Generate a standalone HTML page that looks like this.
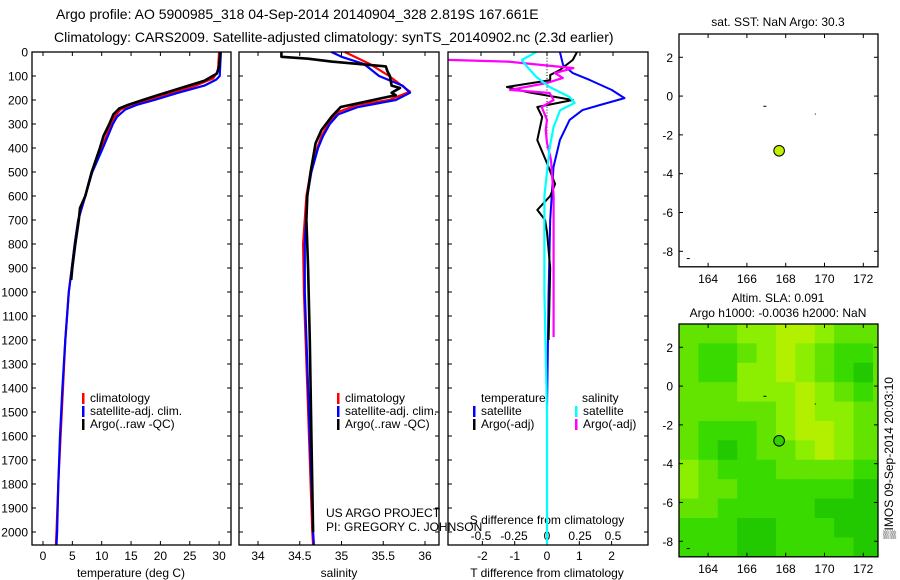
<!DOCTYPE html>
<html><head><meta charset="utf-8">
<style>
html,body{margin:0;padding:0;background:#fff;}
svg{display:block;font-family:"Liberation Sans",sans-serif;}
text{fill:#000;}
</style></head>
<body>
<svg id="chart" width="900" height="580" viewBox="0 0 900 580" xmlns="http://www.w3.org/2000/svg">
<text x="56" y="19" font-size="14" text-anchor="start">Argo profile: AO 5900985_318 04-Sep-2014 20140904_328 2.819S 167.661E</text>
<text x="54" y="42" font-size="14" text-anchor="start">Climatology: CARS2009. Satellite-adjusted climatology: synTS_20140902.nc (2.3d earlier)</text>
<g id="g"></g>
</svg>
<script>
// ---------- data ----------
const depthTicks=[0,100,200,300,400,500,600,700,800,900,1000,1100,1200,1300,1400,1500,1600,1700,1800,1900,2000];
const tempTicks=[0,5,10,15,20,25,30];
const salTicks=[34,34.5,35,35.5,36];
const tdiffTicks=[-2,-1,0,1,2];
const sdiffTicks=[-0.5,-0.25,0,0.25,0.5];
const lonTicks=[164,166,168,170,172];
const latTicks=[2,0,-2,-4,-6,-8];

const tempArgoDepth=[0,60,90,120,150,180,200,220,235,260,300,350,400,450,500,600,650,700,800,900,950];
const tempArgoVal=[30.2,30.0,29.6,27.5,23.5,19.5,17,14.5,13,12,11.3,10.3,9.7,9.0,8.3,7.2,6.3,6.1,5.5,5.0,4.8];
const tempClimDepth=[0,80,110,140,170,200,220,240,270,300,400,500,600,700,800,900,1000,1200,1400,1600,1800,2000,2054];
const tempClimVal=[30.0,29.8,29.0,26.0,22.0,18.0,15.0,13.2,12.2,11.6,10.0,8.3,7.2,6.0,5.4,4.9,4.4,3.8,3.4,3.0,2.6,2.3,2.2];
const tempSatDepth=[0,100,115,140,170,200,220,240,270,300,400,500,600,700,800,900,1000,1200,1400,1600,1800,2000,2054];
const tempSatVal=[30.3,30.1,29.5,27.5,23.0,19.0,16.0,14.0,12.6,11.9,10.2,8.4,7.2,6.0,5.4,4.9,4.4,3.8,3.3,2.9,2.6,2.4,2.3];

const salArgoDepth=[0,20,28,40,60,80,100,140,150,170,180,200,229,270,325,380,500,600,700,900,1200,1600,2000];
const salArgoVal=[34.28,34.28,34.6,34.88,35.53,35.55,35.58,35.6,35.7,35.6,35.65,35.38,34.99,34.88,34.76,34.69,34.63,34.59,34.58,34.6,34.62,34.64,34.66];
const salClimDepth=[0,30,50,100,150,165,200,220,250,300,350,400,500,600,800,1000,1400,2000,2054];
const salClimVal=[35.04,35.22,35.34,35.57,35.76,35.82,35.57,35.19,34.96,34.84,34.76,34.71,34.63,34.58,34.54,34.55,34.59,34.65,34.66];
const salSatDepth=[0,20,50,100,140,170,200,230,260,300,350,400,500,600,800,1000,1400,2000,2054];
const salSatVal=[34.88,35.0,35.27,35.45,35.73,35.82,35.65,35.19,34.96,34.86,34.78,34.72,34.64,34.59,34.56,34.56,34.6,34.66,34.67];

const tdSatDepth=[0,54,88,117,158,192,221,242,283,367,479,700,1000,1500,2054];
const tdSatVal=[0.4,0.5,0.8,1.33,2.0,2.4,1.64,1.1,0.7,0.4,0.2,0.1,0.05,0.0,0.0];
const tdArgoDepth=[0,33,75,96,117,146,167,200,229,271,367,463,550,600,658,700,750,900,1200];
const tdArgoVal=[0.93,0.8,0.4,0.1,0.1,-1.24,-0.6,0.8,-0.3,-0.15,-0.3,0.0,0.25,0.1,-0.3,-0.06,0.0,0.1,0.05];
const sdSatDepth=[0,33,62,104,146,187,212,242,312,400,600,1000,1500,2054];
const sdSatVal=[-0.08,-0.19,-0.15,-0.08,0.02,0.17,0.21,0.1,0.05,0.02,-0.02,-0.02,0.0,0.0];
const sdArgoDepth=[33,40,67,88,108,129,158,171,200,229,283,325,379,450,600,900,1188];
const sdArgoVal=[-0.75,-0.3,0.2,0.06,0.12,0.0,-0.28,0.02,0.05,-0.04,0.0,-0.01,0.0,0.03,0.05,0.05,0.05];

const profLon=[167.661];
const profLat=[-2.819];
const slaGrid=[
[2,2,2,3,3,4,4,3,2,2,2],
[2,1,1,2,3,4,3,2,1,1,2],
[2,1,1,3,3,4,3,2,1,0,2],
[2,2,2,3,3,3,4,3,2,1,2],
[2,2,2,2,2,3,4,3,3,2,2],
[2,1,1,1,2,3,4,4,3,2,2],
[2,1,0,1,2,2,3,4,3,2,2],
[3,2,1,1,1,2,2,2,2,1,1],
[3,2,2,1,1,1,1,1,1,0,0],
[2,2,1,1,1,1,1,0,0,0,0],
[1,1,1,0,0,1,1,1,0,0,0],
[1,1,1,0,0,1,1,1,1,0,0]];
const slaColors=['#22c800','#38da00','#62e400','#8cee00','#b2f000'];

// ---------- helpers ----------
const NS='http://www.w3.org/2000/svg';
const G=document.getElementById('g');
function mk(tag,attrs,parent){const e=document.createElementNS(NS,tag);for(const k in attrs)e.setAttribute(k,attrs[k]);(parent||G).appendChild(e);return e;}
const top0=52,bot0=545;
const yD=d=>top0+d*0.24;
const xT=t=>43+t*5.87;
const xS=s=>258+(s-34)*83.5;
const xTd=v=>547+v*32.3;
const xSd=v=>547+v*132;

function line(xs,ds,xf,color,w,name,dash){
  const pts=xs.map((v,i)=>xf(v).toFixed(1)+','+yD(ds[i]).toFixed(1)).join(' ');
  const p=mk('polyline',{points:pts,fill:'none',stroke:color,'stroke-width':w,'stroke-linejoin':'round'});
  if(dash)p.setAttribute('stroke-dasharray',dash);
  
  
}
function box(x1,x2,y1,y2,name){
  const r=mk('rect',{x:x1,y:y1,width:x2-x1,height:y2-y1,fill:'none',stroke:'#000','stroke-width':1.3});
  
  
}
function txt(x,y,s,size,anchor,name){
  const t=mk('text',{x:x,y:y,'font-size':size,'text-anchor':anchor||'start'});
  t.textContent=s;
  
  
  return t;
}
function tick(x1,y1,x2,y2){mk('line',{x1:x1,y1:y1,x2:x2,y2:y2,stroke:'#000','stroke-width':1});}

const panels=[[32,231],[239,439],[448,648]];
depthTicks.forEach(d=>{
  txt(28,yD(d)+4.5,String(d),12,'end','depth-tick-label');
  panels.forEach(p=>{tick(p[0],yD(d),p[0]+4,yD(d));tick(p[1],yD(d),p[1]-4,yD(d));});
});
tempTicks.forEach(t=>{txt(xT(t),560,String(t),12,'middle','temp-tick-label');tick(xT(t),bot0,xT(t),bot0-4);tick(xT(t),top0,xT(t),top0+4);});
txt(131,577,'temperature (deg C)',12,'middle','temp-axis-title');
line(tempClimVal,tempClimDepth,xT,'#ff0000',2.2,'temp-climatology-line');
line(tempSatVal,tempSatDepth,xT,'#0000ff',2.2,'temp-satellite-line');
line(tempArgoVal,tempArgoDepth,xT,'#000000',2.6,'temp-argo-line');
salTicks.forEach(s=>{txt(xS(s),560,String(s),12,'middle','sal-tick-label');tick(xS(s),bot0,xS(s),bot0-4);tick(xS(s),top0,xS(s),top0+4);});
txt(339,577,'salinity',12,'middle','sal-axis-title');
line(salClimVal,salClimDepth,xS,'#ff0000',2.2,'sal-climatology-line');
line(salSatVal,salSatDepth,xS,'#0000ff',2.2,'sal-satellite-line');
line(salArgoVal,salArgoDepth,xS,'#000000',2.6,'sal-argo-line');
tdiffTicks.forEach(v=>{txt(xTd(v),560,String(v),12,'middle','tdiff-tick-label');tick(xTd(v),bot0,xTd(v),bot0-4);});
sdiffTicks.forEach(v=>{txt(xSd(v),540,String(v),12,'middle','sdiff-tick-label');tick(xSd(v),top0,xSd(v),top0+4);});
txt(547,577,'T difference from climatology',12,'middle','tdiff-axis-title');
txt(547,524,'S difference from climatology',12,'middle','sdiff-axis-title');
for(let d=0;d<=400;d+=12){mk('rect',{x:xTd(0)-0.5,y:yD(d),width:1,height:1,fill:'#000'});}
line(tdSatVal,tdSatDepth,xTd,'#0000ff',2,'tdiff-satellite-line');
line(tdArgoVal,tdArgoDepth,xTd,'#000000',2,'tdiff-argo-line');
line(sdArgoVal,sdArgoDepth,xSd,'#ff00ff',2.2,'sdiff-argo-line');
line(sdSatVal,sdSatDepth,xSd,'#00ffff',2.2,'sdiff-satellite-line');
box(32,231,top0,bot0,'temperature-panel');
box(239,439,top0,bot0,'salinity-panel');
box(448,648,top0,bot0,'difference-panel');

function leg(x,y,color,label,name){mk('rect',{x:x,y:y-9,width:2.5,height:11,fill:color});txt(x+8,y,label,12,'start',name);}
leg(82,402,'#ff0000','climatology','legend-temp-climatology');
leg(82,415,'#0000ff','satellite-adj. clim.','legend-temp-satellite');
leg(82,428,'#000000','Argo(..raw -QC)','legend-temp-argo');
leg(337,402,'#ff0000','climatology','legend-sal-climatology');
leg(337,415,'#0000ff','satellite-adj. clim.','legend-sal-satellite');
leg(337,428,'#000000','Argo(..raw -QC)','legend-sal-argo');
txt(481,402,'temperature',12,'start','legend-header-temperature');
txt(582,402,'salinity',12,'start','legend-header-salinity');
leg(473,415,'#0000ff','satellite','legend-tdiff-satellite');
leg(473,428,'#000000','Argo(-adj)','legend-tdiff-argo');
leg(575,415,'#00ffff','satellite','legend-sdiff-satellite');
leg(575,428,'#ff00ff','Argo(-adj)','legend-sdiff-argo');
txt(326,517,'US ARGO PROJECT',12,'start','project-label');
txt(326,531,'PI: GREGORY C. JOHNSON',12,'start','pi-label');

const mx1=679,mx2=878;
const xL=l=>679+(l-162.5)*19.4;
function drawMap(top,name,grid){
  const yLat=l=>top+(3.2-l)*19.4;
  const bottom=yLat(-8.8);
  if(grid){
    grid.forEach((row,r)=>row.forEach((v,c)=>{
      const x1=Math.max(mx1,xL(162.5+c)),x2=Math.min(mx2,xL(163.5+c));
      const y1=yLat(3.2-r),y2=Math.min(bottom,yLat(2.2-r));
      const cell=mk('rect',{x:x1,y:y1,width:x2-x1+0.5,height:y2-y1+0.5,fill:slaColors[v]});
      
      
    }));
  }
  box(mx1,mx2,top,bottom,name);
  lonTicks.forEach(l=>{txt(xL(l),bottom+16,String(l),12,'middle','lon-tick-label');tick(xL(l),top,xL(l),top+4);tick(xL(l),bottom,xL(l),bottom-4);});
  latTicks.forEach(l=>{txt(mx1-6,yLat(l)+4.5,String(l),12,'end','lat-tick-label');tick(mx1,yLat(l),mx1+4,yLat(l));tick(mx2,yLat(l),mx2-4,yLat(l));});
  mk('rect',{x:xL(166.85),y:yLat(-0.5),width:3,height:1,fill:'#000'});
  mk('rect',{x:xL(169.5),y:yLat(-0.9),width:1,height:1,fill:'#000'});
  mk('rect',{x:xL(162.9),y:yLat(-8.35),width:3,height:1,fill:'#000'});
  profLon.forEach((lo,i)=>{
    const c=mk('circle',{cx:xL(lo),cy:yLat(profLat[i]),r:5.3,fill:grid?'#2ed000':'#bff000',stroke:'#000','stroke-width':1});
    
    
  });
}
drawMap(34,'sst-map',null);
drawMap(324,'sla-map',slaGrid);
txt(778,26,'sat. SST: NaN Argo: 30.3',12,'middle','sst-map-title');
txt(778,302,'Altim. SLA: 0.091',12,'middle','sla-map-title');
txt(778,317,'Argo h1000: -0.0036 h2000: NaN',12,'middle','sla-map-subtitle');
const side=txt(0,0,'\u2592IMOS 09-Sep-2014 20:03:10',12,'middle','timestamp-label');
side.setAttribute('transform','translate(893,458) rotate(-90)');
</script>
</body></html>
